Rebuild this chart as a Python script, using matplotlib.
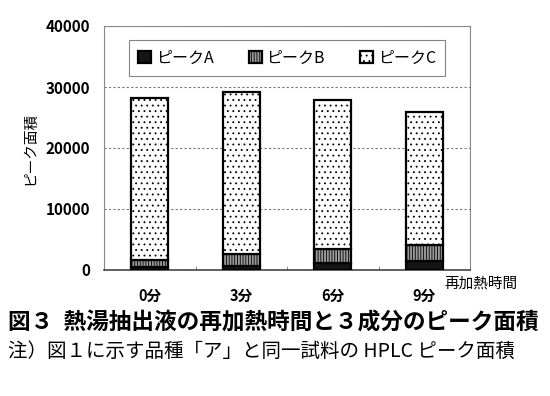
import numpy as np
import matplotlib.pyplot as plt

plt.rcParams['font.family'] = ['Noto Sans CJK JP', 'DejaVu Sans']
plt.rcParams['hatch.linewidth'] = 0.6

categories = ["0分", "3分", "6分", "9分"]
peak_a = [500, 700, 1100, 1550]
peak_b = [1150, 1900, 2300, 2600]
peak_c = [26550, 26600, 24400, 21750]

fig = plt.figure(figsize=(5.5, 3.96), dpi=100)
ax = fig.add_axes([104 / 550, 1 - 270 / 396, 366 / 550, 244 / 396])

x = np.arange(len(categories))
w = 0.4
bottom_b = np.array(peak_a)
bottom_c = bottom_b + np.array(peak_b)
ax.bar(x, peak_a, w, color="#151515", edgecolor="black", linewidth=1.6,
       label="ピークA", zorder=3)
ax.bar(x, peak_b, w, bottom=bottom_b, color="#9a9a9a", edgecolor="black",
       hatch="||||||", linewidth=1.6, label="ピークB", zorder=3)
plt.rcParams['hatch.color'] = "#555"
ax.bar(x, peak_c, w, bottom=bottom_c, color="white", edgecolor="black",
       hatch="...", linewidth=1.6, label="ピークC", zorder=3)

ax.set_xlim(-0.5, 3.5)
ax.set_ylim(0, 40000)
ax.set_yticks([0, 10000, 20000, 30000, 40000])
ax.tick_params(axis="y", length=0, pad=10, labelsize=11)
for lab in ax.get_yticklabels():
    lab.set_fontweight("bold")
ax.set_xticks(x)
ax.set_xticklabels(categories, fontsize=10.5, fontweight="bold")
ax.set_xticks([0.5, 1.5, 2.5], minor=True)
ax.tick_params(axis="x", which="major", length=0, pad=13)
ax.tick_params(axis="x", which="minor", direction="in", length=3, color="#777")
ax.yaxis.grid(True, linestyle=(0, (2, 2)), color="#777", linewidth=0.8)
for s in ax.spines.values():
    s.set_color("#888")
ax.spines["bottom"].set_color("#444")
ax.spines["bottom"].set_linewidth(1.2)

ax.set_ylabel("ピーク面積", fontsize=10.5, labelpad=6)
ax.text(1.03, -0.055, "再加熱時間", transform=ax.transAxes, fontsize=10.5,
        ha="center", va="center")

leg = ax.legend(loc="upper center", ncol=3, bbox_to_anchor=(0.5, 0.975),
                frameon=True, fancybox=False, edgecolor="#666",
                fontsize=11.5, handlelength=0.8, handleheight=0.8,
                columnspacing=2.2, borderpad=0.6, handletextpad=0.3)
leg.get_frame().set_linewidth(0.8)

fig.text(0.015, 1 - 323 / 396, "図３  熱湯抽出液の再加熱時間と３成分のピーク面積",
         fontsize=16.3, fontweight="bold", va="center", ha="left")
fig.text(0.015, 1 - 351 / 396, "注）図１に示す品種「ア」と同一試料の HPLC ピーク面積",
         fontsize=14, va="center", ha="left")

fig.savefig("out.png", dpi=100)
